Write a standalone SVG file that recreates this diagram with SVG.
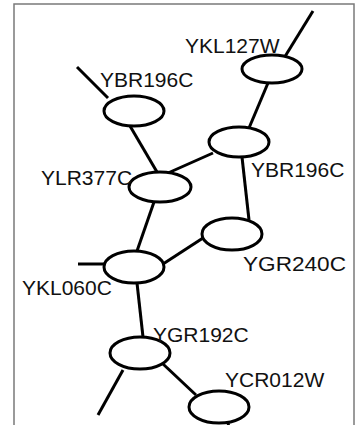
<svg xmlns="http://www.w3.org/2000/svg" width="356" height="425" viewBox="0 0 356 425">
<style>
.n{fill:#fff;stroke:#000;stroke-width:3}
.e{stroke:#000;stroke-width:3;fill:none;stroke-linecap:butt}
.t{font-family:"Liberation Sans",Arial,sans-serif;font-size:21px;fill:#111}
</style>
<rect x="0" y="0" width="356" height="425" fill="#fff"/>
<rect x="14" y="4" width="340" height="430" fill="none" stroke="#7a7a7a" stroke-width="1.5"/>
<g id="connectors">
<line class="e" x1="281" y1="63" x2="313" y2="11"/>
<line class="e" x1="268" y1="83" x2="249" y2="128"/>
<line class="e" x1="77" y1="67" x2="108" y2="98"/>
<line class="e" x1="130" y1="126" x2="157" y2="172"/>
<line class="e" x1="168" y1="173" x2="213" y2="153"/>
<line class="e" x1="242" y1="157" x2="249" y2="220"/>
<line class="e" x1="154" y1="202" x2="137" y2="251"/>
<line class="e" x1="78" y1="264" x2="104" y2="264"/>
<line class="e" x1="163" y1="264" x2="203" y2="238"/>
<line class="e" x1="137" y1="283" x2="143" y2="337"/>
<line class="e" x1="123" y1="370" x2="98" y2="415"/>
<line class="e" x1="163" y1="364" x2="196" y2="395"/>
<line class="e" x1="228" y1="422" x2="229" y2="430"/>
</g>
<g id="YKL127W"><ellipse class="n" cx="272" cy="69" rx="30" ry="14"/><text class="t" x="185" y="53">YKL127W</text></g>
<g id="YBR196C_1"><ellipse class="n" cx="134" cy="111" rx="30" ry="15"/><text class="t" x="100" y="87">YBR196C</text></g>
<g id="YBR196C_2"><ellipse class="n" cx="239" cy="142" rx="30" ry="15"/><text class="t" x="251" y="177">YBR196C</text></g>
<g id="YLR377C"><ellipse class="n" cx="160" cy="187" rx="31" ry="15"/><text class="t" x="41" y="185">YLR377C</text></g>
<g id="YGR240C"><ellipse class="n" cx="232" cy="234" rx="30" ry="16"/><text class="t" x="243" y="271" textLength="103" lengthAdjust="spacingAndGlyphs">YGR240C</text></g>
<g id="YKL060C"><ellipse class="n" cx="134" cy="267" rx="30" ry="16"/><text class="t" x="22" y="295">YKL060C</text></g>
<g id="YGR192C"><ellipse class="n" cx="140" cy="353" rx="30" ry="16"/><text class="t" x="153" y="342">YGR192C</text></g>
<g id="YCR012W"><ellipse class="n" cx="219" cy="407" rx="30" ry="16"/><text class="t" x="225" y="387">YCR012W</text></g>
</svg>
